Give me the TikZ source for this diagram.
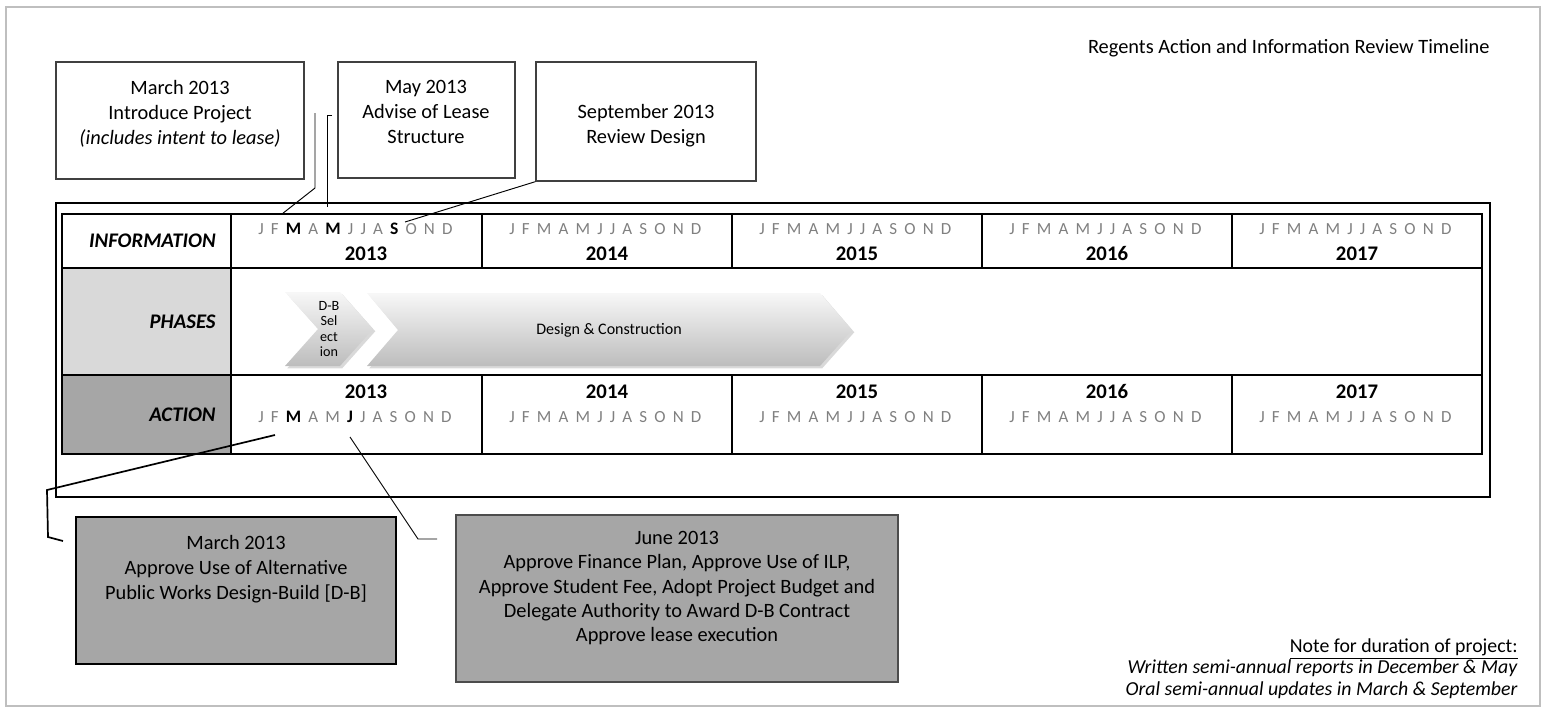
\documentclass[tikz,border=0pt]{standalone}
\usepackage{fontspec}
\setmainfont{Carlito}
\usetikzlibrary{positioning,fit,calc,shadows}
\definecolor{frameGray}{HTML}{BFBFBF}
\definecolor{phaseGray}{HTML}{D9D9D9}
\definecolor{actionGray}{HTML}{A6A6A6}

\begin{document}
\begin{tikzpicture}[x=0.53pt,y=-0.53pt]
	%defines
	\tikzstyle{calloutBox} = [rectangle, draw=black!75, line width=0.7pt, inner sep=0pt]
	\tikzstyle{actionBox} = [rectangle, draw=black, fill=actionGray, line width=0.9pt, inner sep=0pt]
	\tikzstyle{boxText} = [align=center, anchor=north, inner sep=0pt, font=\fontsize{10.8}{13.3}\selectfont]
	\tikzstyle{rowLabel} = [anchor=east, inner sep=0pt, font=\fontsize{11}{13}\selectfont\bfseries\itshape]
	\tikzstyle{yearText} = [anchor=base, inner sep=0pt, font=\fontsize{11}{13}\selectfont\bfseries]
	\tikzstyle{month} = [inner sep=0pt, text=black!50, font=\fontsize{9}{11}\selectfont]
	\tikzstyle{monthOn} = [inner sep=0pt, text=black, font=\fontsize{9.3}{11}\selectfont\bfseries]
	\tikzstyle{tableLine} = [line width=1pt]
	\tikzstyle{phaseArrow} = [top color=black!3, bottom color=black!26, drop shadow={opacity=0.3, shadow xshift=1.2pt, shadow yshift=-1.2pt}]
	\tikzstyle{leaderLine} = [black, line width=0.5pt]
	\useasboundingbox (0,0) rectangle (1544,712);
	\draw[frameGray, line width=1.1pt] (6,7) rectangle (1540,706);
	\node[anchor=east, inner sep=0pt, font=\fontsize{10.8}{13}\selectfont] (title) at (1490,48) {Regents Action and Information Review Timeline};
	%information boxes
	\node[calloutBox, fit={(56,62) (304,179)}] (introProject) {};
	\node[boxText] (introText) at (180,80) {March 2013\\Introduce Project\\\textit{(includes intent to lease)}};
	\node[calloutBox, fit={(338,62) (515,178)}] (leaseStructure) {};
	\node[boxText] (leaseText) at (426,80) {May 2013\\Advise of Lease\\Structure};
	\node[calloutBox, fit={(536,62) (756,181)}] (reviewDesign) {};
	\node[boxText] (reviewText) at (646,104) {September 2013\\Review Design};
	%table
	\fill[phaseGray] (62,268) rectangle (231,375);
	\fill[actionGray] (62,375) rectangle (231,454);
	\draw[tableLine] (56,203) rectangle (1490,497);
	\draw[tableLine] (62,214) rectangle (1482,454);
	\draw[tableLine] (62,268) -- (1482,268) (62,375) -- (1482,375) (231,214) -- (231,454);
	\foreach \x in {482,732,982,1232}
		\draw[tableLine] (\x,214) -- (\x,268) (\x,375) -- (\x,454);
	\node[rowLabel] (information) at (216,241) {INFORMATION};
	\node[rowLabel] (phases) at (216,322) {PHASES};
	\node[rowLabel] (action) at (216,415) {ACTION};
	%years and months
	\node[yearText] (infoYear2013) at (366,260) {2013};
	\node[yearText] (actYear2013) at (366,398) {2013};
	\node[month, anchor=base west] (info2013-1) at (258,234) {J};
	\foreach \m/\s [count=\i from 2, remember=\i as \j (initially 1)] in {F/month,M/monthOn,A/month,M/monthOn,J/month,J/month,A/month,S/monthOn,O/month,N/month,D/month}
		\node[\s, base right=3.4pt of info2013-\j] (info2013-\i) {\m};
	\node[month, anchor=base west] (act2013-1) at (258,422) {J};
	\foreach \m/\s [count=\i from 2, remember=\i as \j (initially 1)] in {F/month,M/monthOn,A/month,M/month,J/monthOn,J/month,A/month,S/month,O/month,N/month,D/month}
		\node[\s, base right=3.4pt of act2013-\j] (act2013-\i) {\m};
	\foreach \yr [count=\k] in {2014,2015,2016,2017} {
		\node[yearText] (infoYear\yr) at ({357+250*\k},260) {\yr};
		\node[yearText] (actYear\yr) at ({357+250*\k},398) {\yr};
		\node[month, anchor=base west] (info\yr-1) at ({259+250*\k},234) {J};
		\node[month, anchor=base west] (act\yr-1) at ({259+250*\k},422) {J};
		\foreach \m [count=\i from 2, remember=\i as \j (initially 1)] in {F,M,A,M,J,J,A,S,O,N,D} {
			\node[month, base right=3.4pt of info\yr-\j] (info\yr-\i) {\m};
			\node[month, base right=3.4pt of act\yr-\j] (act\yr-\i) {\m};
		}
	}
	%phases
	\path[phaseArrow] (285,292) -- (340,292) -- (373,329) -- (340,366) -- (285,366) -- (318,329) -- cycle;
	\node[align=center, inner sep=0pt, font=\fontsize{7.5}{8}\selectfont] (dbSelection) at (329,329) {D-B\\Sel\\ect\\ion};
	\path[phaseArrow] (367,293) -- (820,293) -- (852,330) -- (820,366) -- (367,366) -- (398,330) -- cycle;
	\node[inner sep=0pt, font=\fontsize{8.5}{10}\selectfont] (designConstruction) at (609,330) {Design \& Construction};
	%action boxes
	\node[actionBox, fit={(76,517) (396,664)}] (approveDB) {};
	\node[boxText] (approveDBText) at (236,535) {March 2013\\Approve Use of Alternative\\Public Works Design-Build [D-B]};
	\node[actionBox, draw=black!70, line width=0.7pt, fit={(456,515) (898,682)}] (approveFinance) {};
	\node[boxText, font=\fontsize{10.8}{12.9}\selectfont] (approveFinanceText) at (677,531) {June 2013\\Approve Finance Plan, Approve Use of ILP,\\Approve Student Fee, Adopt Project Budget and\\Delegate Authority to Award D-B Contract\\Approve lease execution};
	%note
	\node[anchor=north east, align=right, inner sep=0pt, font=\fontsize{10.5}{11.4}\selectfont] (note) at (1518,638) {\underline{Note for duration of project:}\\\textit{Written semi-annual reports in December \& May}\\\textit{Oral semi-annual updates in March \& September}};
	%leaders
	\coordinate (introTick) at (315,113);
	\coordinate (introBend) at (315,188);
	\coordinate (introEnd) at (282,214);
	\coordinate (leaseTick) at (332,115);
	\coordinate (leaseBend) at (327,115);
	\coordinate (leaseEnd) at (327,207);
	\coordinate (reviewEnd) at (405,222);
	\coordinate (dbTick) at (63,541);
	\coordinate (dbBendA) at (48,537);
	\coordinate (dbBendB) at (47,490);
	\coordinate (dbEnd) at (275,435);
	\coordinate (financeTick) at (437,539);
	\coordinate (financeBend) at (418,539);
	\coordinate (financeEnd) at (350,437);
	\draw[leaderLine] (introTick) -- (introBend) -- (introEnd);
	\draw[leaderLine] (leaseTick) -- (leaseBend) -- (leaseEnd);
	\draw[leaderLine] (reviewDesign.south west) -- (reviewEnd);
	\draw[leaderLine, line width=0.9pt] (dbTick) -- (dbBendA) -- (dbBendB) -- (dbEnd);
	\draw[leaderLine] (financeTick) -- (financeBend) -- (financeEnd);
\end{tikzpicture}
\end{document}
